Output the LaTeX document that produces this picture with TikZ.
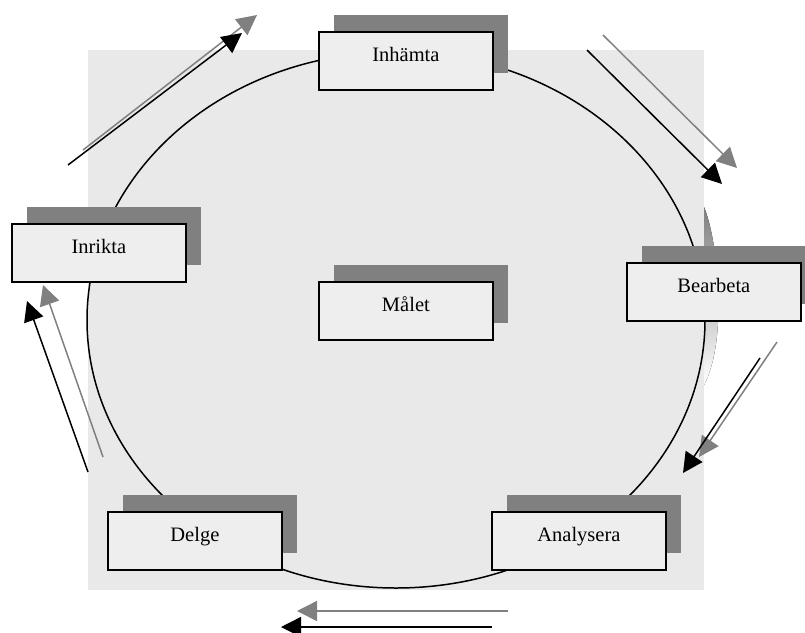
\documentclass[tikz,border=0pt]{standalone}
\usepackage{fontspec}
\setmainfont{Liberation Serif}
\usetikzlibrary{arrows.meta}
\definecolor{bgfill}{HTML}{E9E9E9}
\definecolor{boxfill}{HTML}{EEEEEE}
\definecolor{shade}{HTML}{808080}
\tikzset{
  stepbox/.style={draw=black, line width=1.8pt, fill=boxfill, minimum width=174pt, minimum height=58pt, inner sep=0pt, anchor=north west},
  shadowbox/.style={fill=shade, draw=none, minimum width=174pt, minimum height=58pt, inner sep=0pt, anchor=north west},
  boxtext/.style={anchor=base, inner sep=0pt, font=\fontsize{20.5pt}{24pt}\selectfont},
  blackarrow/.style={draw=black, line width=1.5pt, -{Triangle[length=20pt,width=20pt]}},
  grayarrow/.style={draw=shade, line width=1.5pt, -{Triangle[length=20pt,width=20pt]}, color=shade},
  cycleline/.style={draw=black, line width=1.5pt}
}
\newcommand{\placebox}[4]{%
  \node[shadowbox] (#1s) at (#2+16,#3-16) {};
  \node[stepbox] (#1) at (#2,#3) {};
  \node[boxtext] (#1t) at ([yshift=-30pt]#1.north) {#4};
}
\begin{document}
\begin{tikzpicture}[x=1pt,y=-1pt]
\useasboundingbox (0,0) rectangle (805,632);
% background
\fill[bgfill] (88,50) rectangle (704,590);
% gray crescent on the right
\fill[shade] (704,207) .. controls (718,240) and (728,340) .. (704,385) -- cycle;
% cycle ellipse
\draw[cycleline] (396,320) ellipse [x radius=309pt, y radius=268pt];
% boxes
\placebox{inh}{318}{31}{Inhämta}
\placebox{bea}{626}{262}{Bearbeta}
\placebox{inr}{11}{223}{Inrikta}
\placebox{mal}{318}{281}{Målet}
\placebox{del}{107}{511}{Delge}
\placebox{ana}{491}{511}{Analysera}
% arrow end points
\coordinate (tlbS) at (68,165);  \coordinate (tlbE) at (242,33);
\coordinate (tlgS) at (83,150);  \coordinate (tlgE) at (257,15);
\coordinate (trbS) at (587,50);  \coordinate (trbE) at (722,184);
\coordinate (trgS) at (603,35);  \coordinate (trgE) at (737,168);
\coordinate (rbS) at (760,358);  \coordinate (rbE) at (683,473);
\coordinate (rgS) at (777,342);  \coordinate (rgE) at (699,457);
\coordinate (bgS) at (508,611);  \coordinate (bgE) at (297,611);
\coordinate (bbS) at (492,627);  \coordinate (bbE) at (281,627);
\coordinate (lbS) at (88,472);   \coordinate (lbE) at (27,301);
\coordinate (lgS) at (103,457);  \coordinate (lgE) at (43,285);
% arrows
\draw[grayarrow] (tlgS) -- (tlgE);
\draw[blackarrow] (tlbS) -- (tlbE);
\draw[grayarrow] (trgS) -- (trgE);
\draw[blackarrow] (trbS) -- (trbE);
\draw[grayarrow] (rgS) -- (rgE);
\draw[blackarrow] (rbS) -- (rbE);
\draw[grayarrow] (bgS) -- (bgE);
\draw[blackarrow] (bbS) -- (bbE);
\draw[grayarrow] (lgS) -- (lgE);
\draw[blackarrow] (lbS) -- (lbE);
\end{tikzpicture}
\end{document}
